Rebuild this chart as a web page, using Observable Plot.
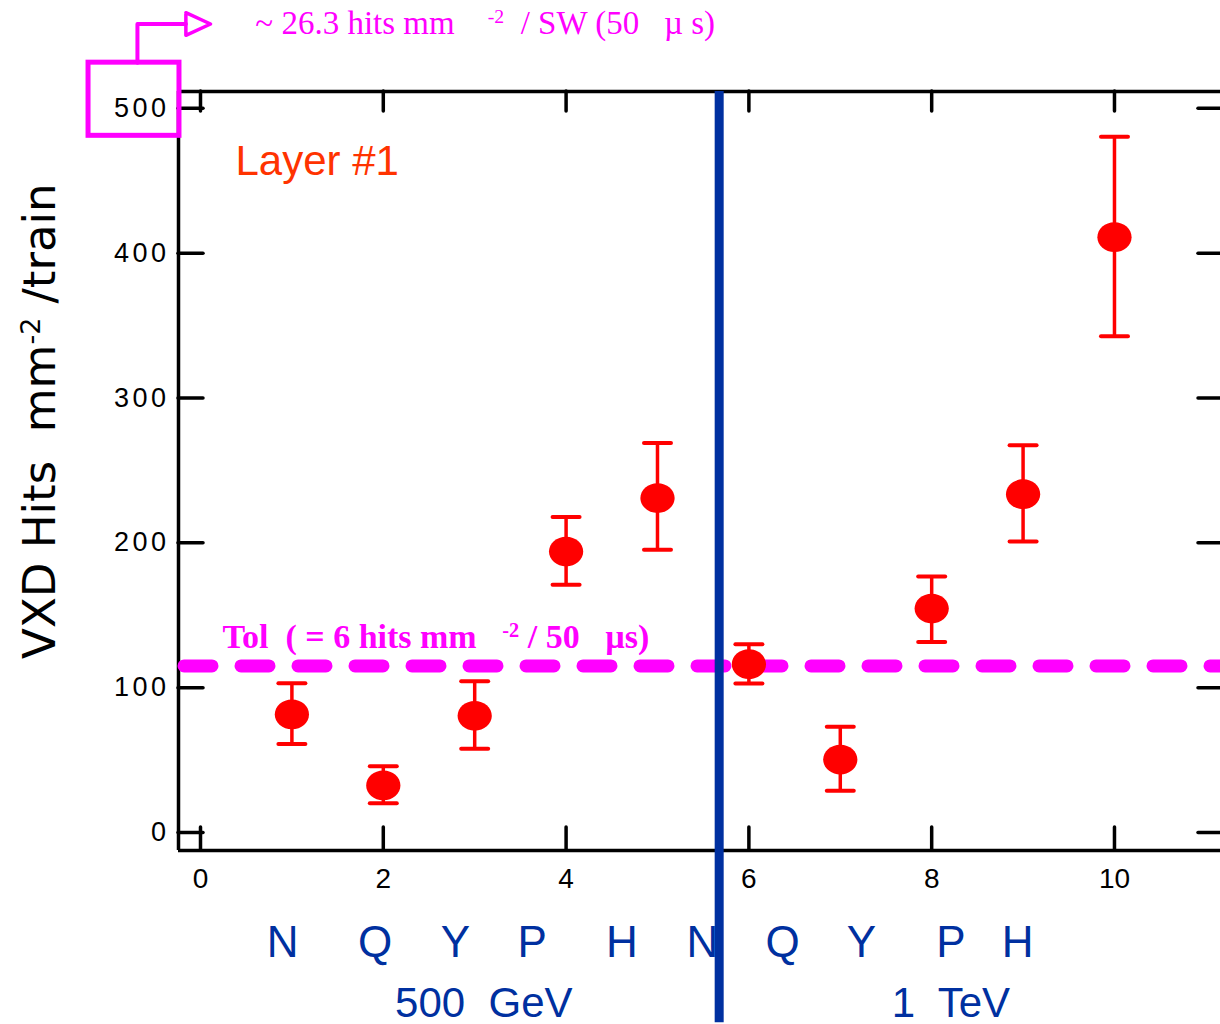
<!DOCTYPE html>
<html>
<head>
<meta charset="utf-8">
<script src="https://cdn.jsdelivr.net/npm/d3@7"></script>
<script src="https://cdn.jsdelivr.net/npm/@observablehq/plot@0.6"></script>
<style>
  html, body { margin: 0; padding: 0; background: #fff; overflow: hidden; }
  svg text { white-space: pre; }
</style>
</head>
<body>
<div id="chart"></div>
<script>
// ---- data ----
const xs      = [1, 2, 3, 4, 5, 6, 7, 8, 9, 10];
const hits    = [81.5, 32.5, 80.6, 194, 230.9, 116.2, 50.4, 154.6, 233.6, 411];
const errLow  = [61.2, 20.3, 57.8, 171, 195.2, 102.9, 28.8, 131.6, 200.9, 342.6];
const errHigh = [103, 45.8, 104.5, 217.8, 269, 130, 73, 176.7, 267.4, 480.4];
const xTicks  = [0, 2, 4, 6, 8, 10];
const yTicks  = [0, 100, 200, 300, 400, 500];
const tolerance = 115;          // Tol level
const divider   = 5.675;        // 500 GeV | 1 TeV separator
const modelLabels = ["N", "Q", "Y", "P", "H", "N", "Q", "Y", "P", "H"];
const modelPos    = [0.90, 1.91, 2.79, 3.63, 4.61, 5.49, 6.37, 7.23, 8.21, 8.94];
const energyLabels = ["500  GeV", "1  TeV"];
const energyPos    = [3.10, 8.21];

const data = xs.map((x, i) => ({x, y: hits[i], lo: errLow[i], hi: errHigh[i]}));

// ---- layout ----
const W = 1220, H = 1024;
const mL = 178, mR = 0, mT = 91, mB = 174;
const pw = W - mL - mR, ph = H - mT - mB;
const xDomain = [-0.2407, 11.16];
const yDomain = [-12.4, 511.6];

const magenta = "#ff00ff", blue = "#0030a0", red = "#ff0000";

// custom symbols
const ellipse = {
  draw(ctx, size) {
    const r = Math.sqrt(size / Math.PI);
    const rx = r * 1.07, ry = r * 0.93, k = 0.5523;
    ctx.moveTo(rx, 0);
    ctx.bezierCurveTo(rx, ry * k, rx * k, ry, 0, ry);
    ctx.bezierCurveTo(-rx * k, ry, -rx, ry * k, -rx, 0);
    ctx.bezierCurveTo(-rx, -ry * k, -rx * k, -ry, 0, -ry);
    ctx.bezierCurveTo(rx * k, -ry, rx, -ry * k, rx, 0);
    ctx.closePath();
  }
};
const cap = {
  draw(ctx, size) {
    const w = Math.sqrt(size / Math.PI);
    ctx.moveTo(-w, 0);
    ctx.lineTo(w, 0);
  }
};

// annotation box around the 500 tick label and arrow
const boxX = [-1.225, -0.23], boxY = [481, 531.5];
const arrowPath = [
  {x: -0.69, y: 531.5}, {x: -0.69, y: 558.2}, {x: -0.16, y: 558.2}
];
const arrowHead = [
  {x: -0.16, y: 566}, {x: 0.11, y: 558.2}, {x: -0.16, y: 550.4}, {x: -0.16, y: 566}
];

const chart = Plot.plot({
  width: W, height: H,
  marginLeft: mL, marginRight: mR, marginTop: mT, marginBottom: mB,
  x: {domain: xDomain, axis: null},
  y: {domain: yDomain, axis: null},
  style: {background: "#fff", overflow: "visible"},
  marks: [
    // tick labels
    Plot.axisX(xTicks, {anchor: "bottom", tickSize: 0, tickPadding: 18, fontSize: 28,
      fontFamily: "Liberation Sans, Arial, sans-serif", fill: "#000", label: null}),
    Plot.axisY(yTicks, {anchor: "left", tickSize: 0, tickPadding: 9, fontSize: 27,
      fontFamily: "Liberation Sans, Arial, sans-serif", fill: "#000", label: null}),
    // inner ticks
    Plot.ruleX(xTicks, {x: d => d, insetBottom: ph - 20, stroke: "#000", strokeWidth: 3.5, strokeLinecap: "round"}),
    Plot.ruleX(xTicks, {x: d => d, insetTop: ph - 23, stroke: "#000", strokeWidth: 3.5, strokeLinecap: "round"}),
    Plot.ruleY(yTicks, {y: d => d, insetRight: pw - 25, stroke: "#000", strokeWidth: 3.5, strokeLinecap: "round"}),
    Plot.ruleY(yTicks, {y: d => d, insetLeft: pw - 22, stroke: "#000", strokeWidth: 3.5, strokeLinecap: "round"}),
    // frame (top, bottom, left)
    Plot.ruleY([yDomain[1]], {stroke: "#000", strokeWidth: 3.5}),
    Plot.ruleY([yDomain[0]], {stroke: "#000", strokeWidth: 3.5}),
    Plot.ruleX([xDomain[0]], {stroke: "#000", strokeWidth: 3.5}),
    // tolerance line
    Plot.ruleY([tolerance], {stroke: magenta, strokeWidth: 13, strokeDasharray: "28 29",
      strokeLinecap: "round", insetLeft: 6}),
    Plot.text(["Tol  ( = 6 hits mm   ^{-2} / 50   µs)"], {x: 0.24, y: 135, text: d => d,
      textAnchor: "start", fill: magenta, fontSize: 34, fontWeight: "bold",
      fontFamily: "Liberation Serif, Times New Roman, serif"}),
    // divider
    Plot.ruleX([divider], {y1: yDomain[1], y2: -131.3, stroke: blue, strokeWidth: 9}),
    // error bars
    Plot.ruleX(data, {x: "x", y1: "lo", y2: "hi", stroke: red, strokeWidth: 3.5}),
    Plot.dot(data, {x: "x", y: "lo", symbol: cap, r: 13.5, stroke: red, strokeWidth: 4, strokeLinecap: "round"}),
    Plot.dot(data, {x: "x", y: "hi", symbol: cap, r: 13.5, stroke: red, strokeWidth: 4, strokeLinecap: "round"}),
    Plot.dot(data, {x: "x", y: "y", symbol: ellipse, r: 16, fill: red, stroke: "none"}),
    // layer label
    Plot.text(["Layer #1"], {x: 0.383, y: 463, text: d => d, textAnchor: "start",
      fill: "#ff3300", fontSize: 42, fontFamily: "Liberation Sans, Arial, sans-serif"}),
    // y axis label
    Plot.text(["VXD Hits  mm^{-2} /train"], {x: -1.75, y: 284, text: d => d, rotate: -90,
      fill: "#000", fontSize: 45, fontFamily: "DejaVu Sans, sans-serif"}),
    // model letters and energies
    Plot.text(modelLabels, {x: (d, i) => modelPos[i], y: -76.1, text: d => d,
      fill: blue, fontSize: 44, fontFamily: "Liberation Sans, Arial, sans-serif"}),
    Plot.text(energyLabels, {x: (d, i) => energyPos[i], y: -118.3, text: d => d,
      fill: blue, fontSize: 42, fontFamily: "Liberation Sans, Arial, sans-serif"}),
    // top annotation
    Plot.rect([0], {x1: boxX[0], x2: boxX[1], y1: boxY[0], y2: boxY[1],
      fill: "none", stroke: magenta, strokeWidth: 5}),
    Plot.line(arrowPath, {x: "x", y: "y", stroke: magenta, strokeWidth: 4}),
    Plot.line(arrowHead, {x: "x", y: "y", stroke: magenta, strokeWidth: 3.5, fill: "none"}),
    Plot.text(["~ 26.3 hits mm    ^{-2}  / SW (50   µ s)"], {x: 0.60, y: 558.9, text: d => d,
      textAnchor: "start", fill: magenta, fontSize: 33,
      fontFamily: "Liberation Serif, Times New Roman, serif"})
  ]
});

// wider spacing of the y tick labels
d3.select(chart).selectAll('g[aria-label="y-axis tick label"]').attr("letter-spacing", "3.5px");

// superscript post-processing
d3.select(chart).selectAll("text").each(function () {
  const t = this.textContent;
  if (!t.includes("^{")) return;
  const m = t.match(/^(.*)\^\{(.*?)\}(.*)$/);
  if (!m) return;
  const el = d3.select(this);
  el.text(null);
  el.append("tspan").text(m[1]);
  el.append("tspan").attr("dy", "-0.55em").attr("font-size", "0.6em").text(m[2]);
  el.append("tspan").attr("dy", "0.33em").text(m[3]);
});

document.getElementById("chart").appendChild(chart);
</script>
</body>
</html>
